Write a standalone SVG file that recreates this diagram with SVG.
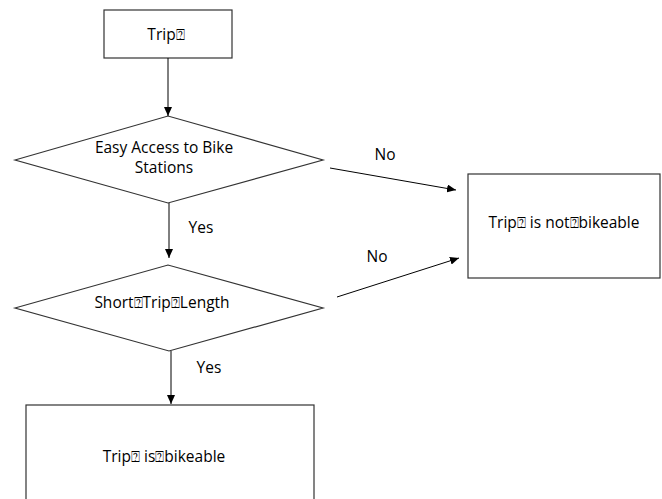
<svg xmlns="http://www.w3.org/2000/svg" width="662" height="499" viewBox="0 0 662 499">
<defs>
<marker id="ah" markerWidth="10" markerHeight="8" refX="9" refY="4" orient="auto" markerUnits="userSpaceOnUse">
<path d="M0,0 L9,4 L0,8 Z" fill="#000"/>
</marker>
<style>
.shape{fill:#fff;stroke:#333;stroke-width:1.2}
.t{font-family:"Open Sans","Noto Sans","Liberation Sans",sans-serif;font-size:15.5px;fill:#000;text-anchor:middle}
.q{font-family:"DejaVu Sans",sans-serif;font-size:15px;fill:#000}
.c{stroke:#000;stroke-width:1;fill:none;marker-end:url(#ah)}
</style>
</defs>
<rect width="662" height="499" fill="#fff"/>
<g id="trip">
<rect class="shape" x="104" y="10" width="128" height="48"/>
<text class="t" x="166" y="40">Trip<tspan class="q">⍰</tspan></text>
</g>
<g id="easy-access">
<polygon class="shape" points="15,160 168,116 323,160 168,203"/>
<text class="t" x="164" y="153">Easy Access to Bike</text>
<text class="t" x="164" y="173">Stations</text>
</g>
<g id="short-trip">
<polygon class="shape" points="15,308 168,265 323,308 169,351"/>
<text class="t" x="162" y="308">Short<tspan class="q">⍰</tspan>Trip<tspan class="q">⍰</tspan>Length</text>
</g>
<g id="not-bikeable">
<rect class="shape" x="468" y="174" width="192" height="104"/>
<text class="t" x="564" y="228">Trip<tspan class="q">⍰</tspan> is not<tspan class="q">⍰</tspan>bikeable</text>
</g>
<g id="bikeable">
<rect class="shape" x="26" y="405" width="288" height="104"/>
<text class="t" x="164" y="462">Trip<tspan class="q">⍰</tspan>  is<tspan class="q">⍰</tspan>bikeable</text>
</g>
<g id="connectors">
<line class="c" x1="168" y1="58" x2="168" y2="116"/>
<line class="c" x1="169" y1="203" x2="169" y2="258"/>
<line class="c" x1="171" y1="351" x2="171" y2="404"/>
<line class="c" x1="330" y1="168" x2="456" y2="190"/>
<line class="c" x1="337" y1="297" x2="459" y2="258"/>
<text class="t" x="201" y="233">Yes</text>
<text class="t" x="209" y="373">Yes</text>
<text class="t" x="385" y="160">No</text>
<text class="t" x="377" y="262">No</text>
</g>
</svg>
